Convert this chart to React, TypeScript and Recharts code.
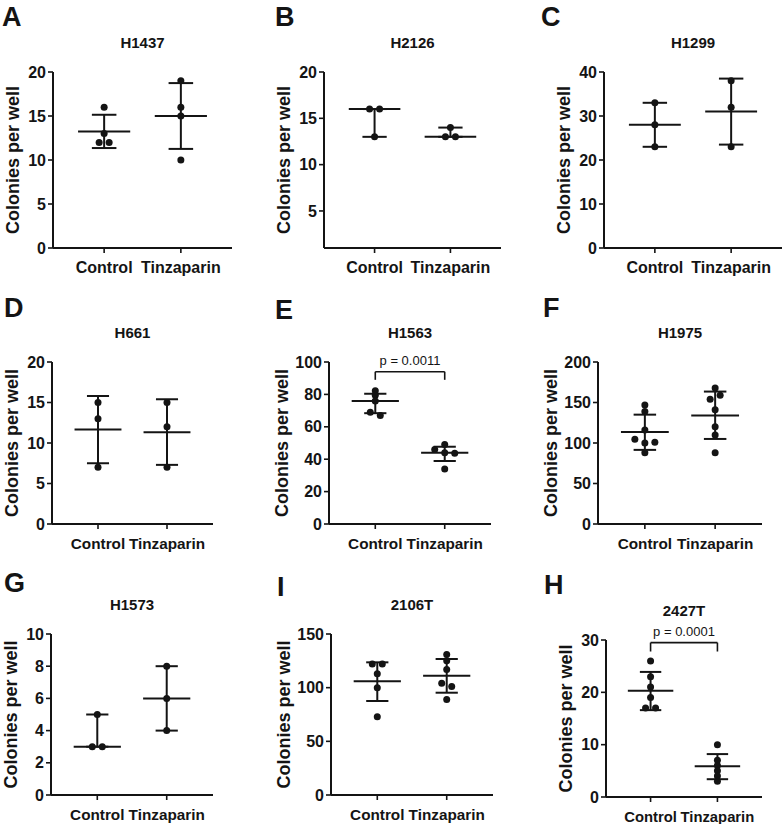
import React from 'react';
import { ComposedChart, Scatter, ErrorBar, XAxis, YAxis, ReferenceLine, Label } from 'recharts';

const INK = '#141414';
const FONT = '"Liberation Sans", Arial, Helvetica, sans-serif';

const groups = ['Control', 'Tinzaparin'];

const letters = ['A', 'B', 'C', 'D', 'E', 'F', 'G', 'I', 'H'];
const titles = ['H1437', 'H2126', 'H1299', 'H661', 'H1563', 'H1975', 'H1573', '2106T', '2427T'];

// colonies per well, one value per well
const h1437Control = [16, 13, 12, 12];
const h1437Tinza = [19, 16, 15, 10];
const h2126Control = [16, 16, 13];
const h2126Tinza = [14, 13, 13];
const h1299Control = [33, 28, 23];
const h1299Tinza = [38, 32, 23];
const h661Control = [15, 13, 7];
const h661Tinza = [15, 12, 7];
const h1563Control = [82.3, 79.5, 76, 69, 67];
const h1563Tinza = [49, 46, 44, 43.6, 34];
const h1975Control = [147, 139, 116, 104.5, 100, 101, 88];
const h1975Tinza = [168, 154, 159, 141, 120, 110, 88];
const h1573Control = [5, 3, 3];
const h1573Tinza = [8, 6, 4];
const t2106Control = [122, 122, 113, 100, 73];
const t2106Tinza = [131, 125, 117, 104, 101, 89];
const t2427Control = [26, 23, 21, 19, 17, 17];
const t2427Tinza = [10, 7, 6, 5, 4, 3];

// centre line, lower bar, upper bar (control, tinzaparin)
const h1437Bars = [[13.25, 11.36, 15.14], [15, 11.26, 18.74]];
const h2126Bars = [[16, 13, 16], [13, 13, 14]];
const h1299Bars = [[28, 23, 33], [31, 23.5, 38.5]];
const h661Bars = [[11.67, 7.5, 15.8], [11.33, 7.3, 15.4]];
const h1563Bars = [[76, 68.4, 80.4], [44, 38.9, 47.7]];
const h1975Bars = [[113.5, 91.5, 135], [134, 105, 163.5]];
const h1573Bars = [[3, 3, 5], [6, 4, 8]];
const t2106Bars = [[106, 87.6, 123.6], [111.2, 95.3, 126.7]];
const t2427Bars = [[20.3, 16.6, 23.9], [5.87, 3.4, 8.2]];

// y axes
const ticks20 = [0, 5, 10, 15, 20];
const ticks20b = [5, 10, 15, 20];
const ticks40 = [0, 10, 20, 30, 40];
const ticks100 = [0, 20, 40, 60, 80, 100];
const ticks200 = [0, 50, 100, 150, 200];
const ticks10 = [0, 2, 4, 6, 8, 10];
const ticks150 = [0, 50, 100, 150];
const ticks30 = [0, 10, 20, 30];

// significance brackets: [top, leg end]
const h1563P = 'p = 0.0011';
const h1563Bracket = [94, 89];
const t2427P = 'p = 0.0001';
const t2427Bracket = [29.5, 27.8];

type Panel = {
  control: number[];
  tinza: number[];
  bars: number[][];
  ticks: number[];
  domain: [number, number];
  p?: string;
  bracket?: number[];
};

const panels: Panel[] = [
  { control: h1437Control, tinza: h1437Tinza, bars: h1437Bars, ticks: ticks20, domain: [0, 20] },
  { control: h2126Control, tinza: h2126Tinza, bars: h2126Bars, ticks: ticks20b, domain: [1, 20] },
  { control: h1299Control, tinza: h1299Tinza, bars: h1299Bars, ticks: ticks40, domain: [0, 40] },
  { control: h661Control, tinza: h661Tinza, bars: h661Bars, ticks: ticks20, domain: [0, 20] },
  { control: h1563Control, tinza: h1563Tinza, bars: h1563Bars, ticks: ticks100, domain: [0, 100], p: h1563P, bracket: h1563Bracket },
  { control: h1975Control, tinza: h1975Tinza, bars: h1975Bars, ticks: ticks200, domain: [0, 200] },
  { control: h1573Control, tinza: h1573Tinza, bars: h1573Bars, ticks: ticks10, domain: [0, 10] },
  { control: t2106Control, tinza: t2106Tinza, bars: t2106Bars, ticks: ticks150, domain: [0, 150] },
  { control: t2427Control, tinza: t2427Tinza, bars: t2427Bars, ticks: ticks30, domain: [0, 30], p: t2427P, bracket: t2427Bracket },
];

// plot boxes on the page
const layout = [
  { x: 53, y: 72, w: 179, h: 176, fs: 16 },
  { x: 324, y: 72, w: 177, h: 176, fs: 16 },
  { x: 604, y: 72, w: 178, h: 176, fs: 16 },
  { x: 52, y: 362, w: 161, h: 162, fs: 15.3 },
  { x: 329, y: 362, w: 162, h: 162, fs: 15.3 },
  { x: 598, y: 362, w: 164, h: 162, fs: 15.3 },
  { x: 51, y: 634, w: 162, h: 161, fs: 15.3 },
  { x: 331, y: 634, w: 162, h: 161, fs: 15.3 },
  { x: 606, y: 640, w: 156, h: 157, fs: 14.8 },
];
const letterPos = [[3, 7], [276, 7], [542, 7], [5, 298], [276, 300], [544, 298], [5, 573], [278, 577], [545, 575]];

const AXIS_W = 60;
const TOP = 40;
const BOTTOM = 35;
const RIGHT = 8;
const X_DOMAIN: [number, number] = [1 / 3, 8 / 3];

// side-by-side slots for dots that would overlap (like Prism's scatter)
function spread(values: number[], pxPerUnit: number) {
  const order = values.map((_, i) => i).sort((a, b) => values[b] - values[a]);
  const slot = new Array(values.length).fill(0);
  let cluster = [order[0]];
  const flush = () => {
    const m = [...cluster].sort((a, b) => a - b);
    m.forEach((idx, k) => (slot[idx] = k - (m.length - 1) / 2));
  };
  for (let k = 1; k < order.length; k++) {
    if ((values[order[k - 1]] - values[order[k]]) * pxPerUnit < 4.2) cluster.push(order[k]);
    else {
      flush();
      cluster = [order[k]];
    }
  }
  flush();
  return slot;
}

const Dot = (props: any) => {
  const slot = props.payload?.slot ?? props.slot ?? 0;
  return <circle cx={props.cx + slot * 10} cy={props.cy} r={3.5} fill={INK} />;
};

const PanelChart = ({ panel, box }: { panel: Panel; box: typeof layout[0] }) => {
  const pxPerUnit = box.h / (panel.domain[1] - panel.domain[0]);
  const unit = box.w / (X_DOMAIN[1] - X_DOMAIN[0]);
  const half = unit * 0.34;
  const cap = unit * 0.16;

  const points = [panel.control, panel.tinza].flatMap((vals, g) => {
    const slots = spread(vals, pxPerUnit);
    return vals.map((v, i) => ({ x: g + 1, y: v, slot: slots[i] }));
  });
  const summary = panel.bars.map((b, i) => ({ x: i + 1, y: b[0], err: [b[0] - b[1], b[2] - b[0]] }));

  const digits = Math.max(...panel.ticks.map((t) => String(t).length));
  const labelDist = 26 + 7 * digits;

  const MeanLine = (p: any) => (
    <line x1={p.cx - half} x2={p.cx + half} y1={p.cy} y2={p.cy} stroke={INK} strokeWidth={2} />
  );

  return (
    <ComposedChart
      width={AXIS_W + box.w + RIGHT}
      height={TOP + box.h + BOTTOM}
      margin={{ top: TOP, right: RIGHT, bottom: 0, left: 0 }}
    >
      <XAxis
        type="number"
        dataKey="x"
        domain={X_DOMAIN}
        ticks={[1, 2]}
        interval={0}
        allowDataOverflow
        height={BOTTOM}
        tickFormatter={(v) => groups[v - 1]}
        tick={{ fill: INK, fontSize: box.fs, fontWeight: 700, fontFamily: FONT }}
        tickSize={5}
        tickMargin={9}
        axisLine={{ stroke: INK, strokeWidth: 2 }}
        tickLine={{ stroke: INK, strokeWidth: 1.6 }}
      />
      <YAxis
        type="number"
        dataKey="y"
        width={AXIS_W}
        domain={panel.domain}
        ticks={panel.ticks}
        interval={0}
        allowDataOverflow
        tick={{ fill: INK, fontSize: 16, fontWeight: 700, fontFamily: FONT }}
        tickSize={5}
        tickMargin={2}
        axisLine={{ stroke: INK, strokeWidth: 2 }}
        tickLine={{ stroke: INK, strokeWidth: 1.6 }}
      >
        <Label
          value="Colonies per well"
          angle={-90}
          position="insideLeft"
          offset={AXIS_W - labelDist}
          style={{ textAnchor: 'middle', fontSize: 18, fontWeight: 700, fontFamily: FONT, fill: INK }}
        />
      </YAxis>
      <Scatter data={points} shape={Dot} isAnimationActive={false} />
      <Scatter data={summary} shape={MeanLine} isAnimationActive={false}>
        <ErrorBar dataKey="err" direction="y" width={cap} stroke={INK} strokeWidth={2} />
      </Scatter>
      {panel.bracket && (
        <ReferenceLine
          segment={[{ x: 1, y: panel.bracket[0] }, { x: 2, y: panel.bracket[0] }]}
          stroke={INK}
          strokeWidth={1.6}
          ifOverflow="visible"
          label={{ value: panel.p, position: 'top', offset: 7, fill: INK, fontSize: 13, fontFamily: FONT }}
        />
      )}
      {panel.bracket && (
        <ReferenceLine
          segment={[{ x: 1, y: panel.bracket[0] }, { x: 1, y: panel.bracket[1] }]}
          stroke={INK}
          strokeWidth={1.6}
          ifOverflow="visible"
        />
      )}
      {panel.bracket && (
        <ReferenceLine
          segment={[{ x: 2, y: panel.bracket[0] }, { x: 2, y: panel.bracket[1] }]}
          stroke={INK}
          strokeWidth={1.6}
          ifOverflow="visible"
        />
      )}
    </ComposedChart>
  );
};

export default function App() {
  return (
    <div
      style={{
        position: 'absolute',
        left: 0,
        top: 0,
        width: 784,
        height: 824,
        overflow: 'hidden',
        background: '#fff',
        fontFamily: FONT,
        color: INK,
      }}
    >
      {panels.map((panel, i) => {
        const box = layout[i];
        return (
          <React.Fragment key={titles[i]}>
            <div
              style={{
                position: 'absolute',
                left: letterPos[i][0] - 1,
                top: letterPos[i][1] - 3.5,
                fontSize: 27,
                lineHeight: '27px',
                fontWeight: 700,
              }}
            >
              {letters[i]}
            </div>
            <div
              style={{
                position: 'absolute',
                left: box.x,
                width: box.w,
                top: box.y - 38,
                textAlign: 'center',
                fontSize: 15,
                lineHeight: '18px',
                fontWeight: 700,
              }}
            >
              {titles[i]}
            </div>
            <div style={{ position: 'absolute', left: box.x - AXIS_W, top: box.y - TOP }}>
              <PanelChart panel={panel} box={box} />
            </div>
          </React.Fragment>
        );
      })}
    </div>
  );
}
